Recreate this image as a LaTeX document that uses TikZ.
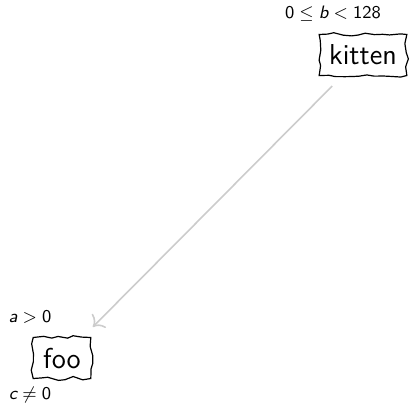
\documentclass[tikz,border=0pt]{standalone}
\usetikzlibrary{arrows.meta,positioning,decorations.pathmorphing}
\newcommand{\mv}[1]{\mathord{\textsf{\slshape #1}}}
\newcommand{\mn}[1]{\mathord{\textsf{#1}}}
\tikzset{
  >={To[scale=1.4]},
  rough/.style={draw=black,line width=0.6pt,decorate,
    decoration={random steps,segment length=4pt,amplitude=1pt},
    font=\Large\sffamily,inner xsep=5pt,inner ysep=4pt,minimum height=20.5pt},
  lab/.style={font=\small\sffamily,inner sep=1pt},
  link/.style={->,draw=black!20,line width=0.8pt,shorten <=7pt,shorten >=7pt},
}
\begin{document}
\begin{tikzpicture}
\useasboundingbox (0,0) rectangle (205pt,201pt);
\node[rough] (kitten) at (181.5pt,173.5pt) {kitten};
\node[rough] (foo) at (31pt,22pt) {foo};
\draw[link] (kitten) -- (foo);
\node[lab,above=5pt of kitten.north,xshift=-15pt] (bcond) {$\mn{0}\le\mv{b}<\mn{128}$};
\node[lab,above=5.5pt of foo.north,xshift=-16pt] (acond) {$\mv{a}>\mn{0}$};
\node[lab,below=2.5pt of foo.south,xshift=-16pt] (ccond) {$\mv{c}\ne\mn{0}$};
\end{tikzpicture}
\end{document}
